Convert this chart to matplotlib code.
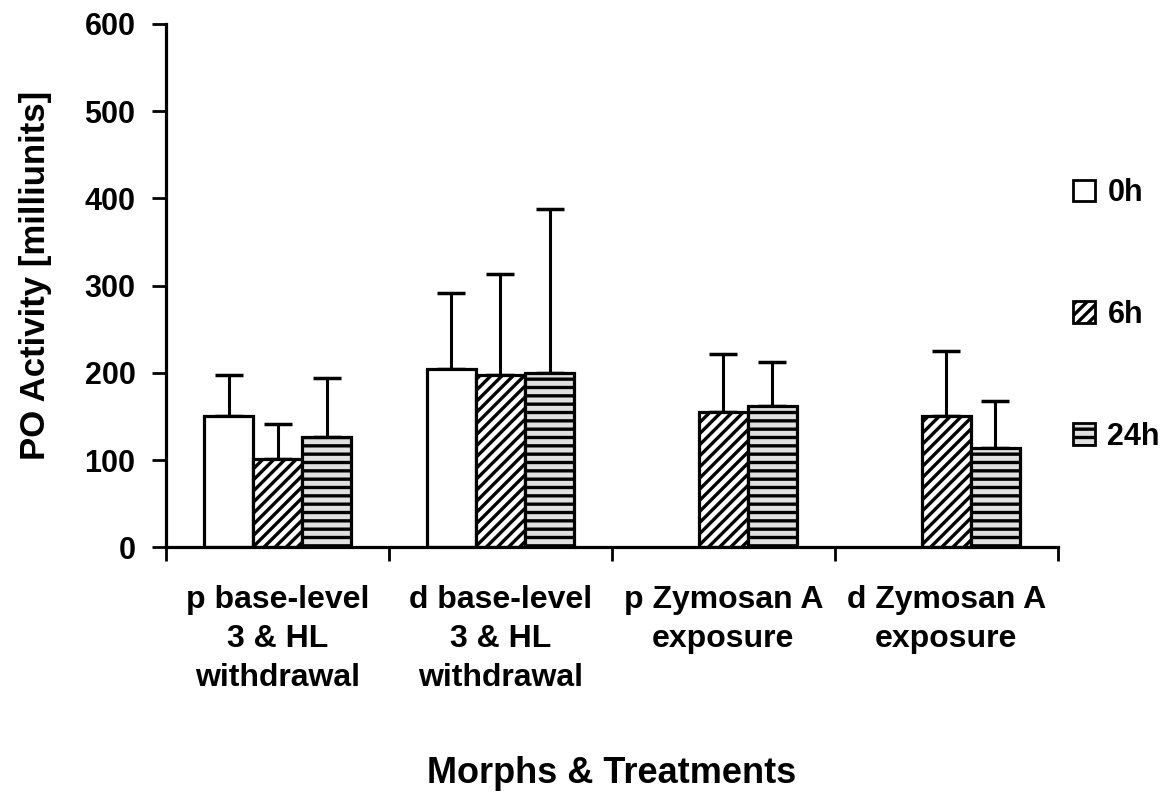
import numpy as np
import matplotlib
matplotlib.use("Agg")
import matplotlib.pyplot as plt
from matplotlib.patches import Patch

plt.rcParams['font.family'] = ['Liberation Sans', 'DejaVu Sans']
plt.rcParams['font.weight'] = 'bold'
plt.rcParams['hatch.linewidth'] = 2.4

categories = ["p base-level\n3 & HL\nwithdrawal", "d base-level\n3 & HL\nwithdrawal",
              "p Zymosan A\nexposure", "d Zymosan A\nexposure"]
series = ["0h", "6h", "24h"]
mean_0h = [150, 204, np.nan, np.nan]
mean_6h = [101, 198, 155, 150]
mean_24h = [126, 200, 162, 114]
err_0h = [48, 88, np.nan, np.nan]
err_6h = [40, 115, 67, 75]
err_24h = [68, 188, 50, 54]

means = [mean_0h, mean_6h, mean_24h]
errs = [err_0h, err_6h, err_24h]
hatches = [None, '///', '--']
faces = ['white', 'white', '#e0e0e0']

fig = plt.figure(figsize=(11.7, 7.99), dpi=100)
ax = fig.add_axes([0.142, 0.315, 0.762, 0.655])

x = np.arange(len(categories))
w = 0.22
for i in range(3):
    pos = x + (i - 1) * w
    ax.bar(pos, means[i], width=w, color=faces[i], edgecolor='black', linewidth=2.3,
           hatch=hatches[i], label=series[i], zorder=2)
    ax.errorbar(pos, means[i], yerr=[np.zeros(len(x)), errs[i]], fmt='none',
                ecolor='black', elinewidth=2.2, capsize=10, capthick=2.5, zorder=1)

ax.set_xlim(-0.5, len(categories) - 0.5)
ax.set_ylim(0, 600)
ax.set_yticks(np.arange(0, 601, 100))
ax.set_xticks(np.arange(-0.5, len(categories), 1.0))
ax.set_xticklabels([])
ax.set_xticks(x, minor=True)
ax.set_xticklabels(categories, minor=True, fontsize=23, fontweight='bold', linespacing=1.4)
ax.tick_params(axis='x', which='minor', length=0, pad=27)
ax.tick_params(axis='x', which='major', length=10, width=2, direction='out')
ax.tick_params(axis='y', length=10, width=2, labelsize=22, pad=12)
for s in ['top', 'right']:
    ax.spines[s].set_visible(False)
for s in ['left', 'bottom']:
    ax.spines[s].set_linewidth(2.3)

ax.set_ylabel("PO Activity [milliunits]", fontsize=25, fontweight='bold')
ax.yaxis.set_label_coords(-0.128, 0.52)
fig.text(0.523, 0.02, "Morphs & Treatments", ha='center', va='baseline', fontsize=26, fontweight='bold')

handles = [Patch(facecolor=faces[i], edgecolor='black', linewidth=2.0, hatch=hatches[i], label=series[i])
           for i in range(3)]
fig.legend(handles=handles, loc='upper left', bbox_to_anchor=(0.917, 0.777), frameon=False,
           fontsize=22, handlelength=0.73, handleheight=0.73, handletextpad=0.4,
           labelspacing=3.0, borderpad=0, borderaxespad=0)

fig.savefig("out.png", dpi=100)
